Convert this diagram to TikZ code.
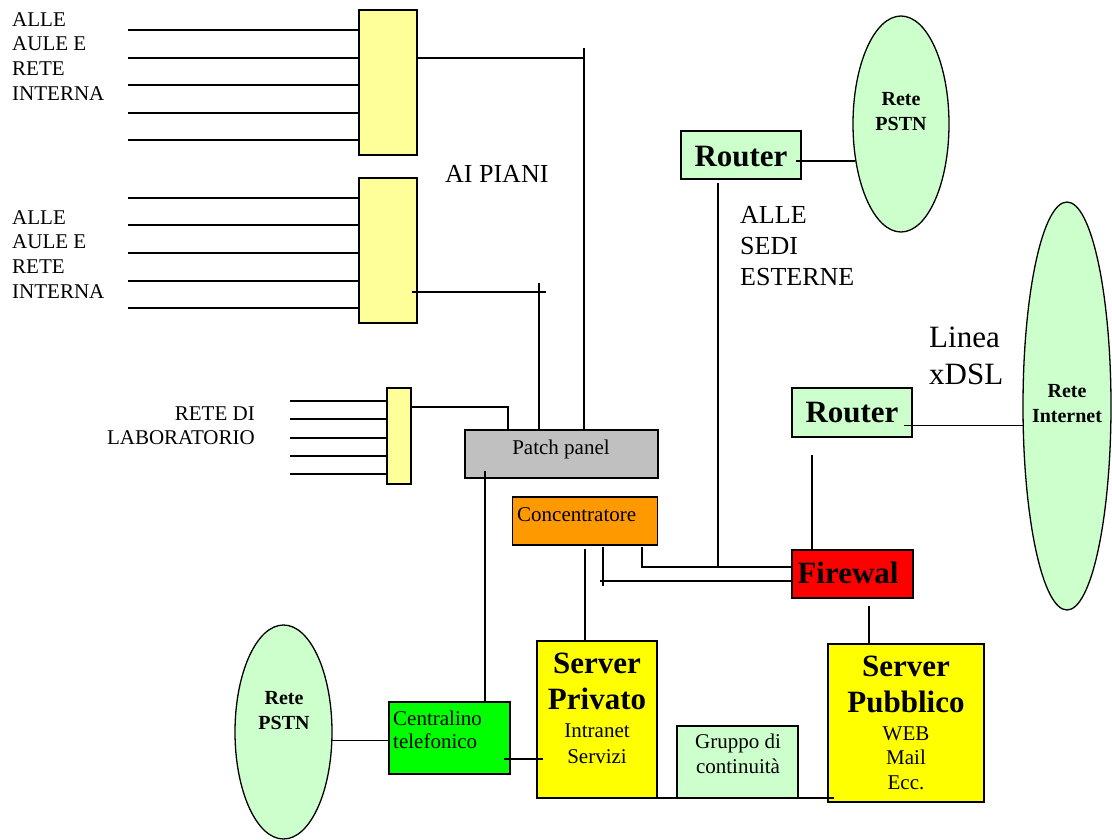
\documentclass[tikz,border=0pt]{standalone}
\usepackage{fontspec}
\setmainfont{Liberation Serif}
\usetikzlibrary{shapes.geometric}
\definecolor{lyel}{HTML}{FFFF99}
\definecolor{syel}{HTML}{FFFF00}
\definecolor{lgrn}{HTML}{CCFFCC}
\definecolor{pgray}{HTML}{C0C0C0}
\definecolor{orng}{HTML}{FF9900}
\definecolor{bgrn}{HTML}{00FF00}
\definecolor{rd}{HTML}{FF0000}
\begin{document}
\begin{tikzpicture}[x=1pt,y=-1pt,
  box/.style={draw=black,line width=1.6pt,rectangle,inner sep=0pt},
  wire/.style={line width=1.3pt},
  cloud/.style={draw=black,ellipse,line width=1.3pt,fill=lgrn,inner sep=0pt},
  small/.style={inner sep=0pt,font=\fontsize{21}{24.7}\selectfont},
  mid/.style={inner sep=0pt,font=\fontsize{26}{31}\selectfont},
  big/.style={inner sep=0pt,font=\fontsize{31}{37}\selectfont},
  cloudtxt/.style={inner sep=0pt,align=center,font=\fontsize{20}{24.5}\selectfont\bfseries},
  title/.style={inner sep=0pt,align=center,font=\fontsize{31}{36}\selectfont\bfseries}]
\useasboundingbox (0,0) rectangle (1112,839);

% boxes
\node[box,fill=lyel,minimum width=58pt,minimum height=145pt] (boxA) at (388,82.5) {};
\node[box,fill=lyel,minimum width=58pt,minimum height=145pt] (boxB) at (388,250.5) {};
\node[box,fill=lyel,minimum width=24pt,minimum height=96pt] (boxC) at (399,436) {};
\node[box,fill=pgray,minimum width=193pt,minimum height=48pt] (patch) at (561.5,454) {};
\node[box,fill=orng,minimum width=145pt,minimum height=48pt] (conc) at (585,521) {};
\node[box,fill=rd,minimum width=121pt,minimum height=48pt] (fw) at (852.5,574) {};
\node[box,fill=lgrn,minimum width=120pt,minimum height=48pt] (r1) at (741,155) {};
\node[box,fill=lgrn,minimum width=120pt,minimum height=49pt] (r2) at (852,412.5) {};
\node[box,fill=syel,minimum width=120pt,minimum height=157pt] (spriv) at (597,719.5) {};
\node[box,fill=syel,minimum width=156pt,minimum height=158pt] (spub) at (906,723) {};
\node[box,fill=bgrn,minimum width=121pt,minimum height=72pt] (cent) at (449.5,738) {};
\node[box,fill=lgrn,minimum width=121pt,minimum height=72pt] (ups) at (737.5,762) {};
\node[cloud,minimum width=96pt,minimum height=216pt] (pstn1) at (901,124) {};
\node[cloud,minimum width=88pt,minimum height=408pt] (inet) at (1067,406) {};
\node[cloud,minimum width=97pt,minimum height=214pt] (pstn2) at (283.5,732) {};

% texts
\node[small,align=left,anchor=north west] (lab1) at (12,12.1) {ALLE\\AULE E\\RETE\\INTERNA};
\node[small,align=left,anchor=north west] (lab2) at (12,210.1) {ALLE\\AULE E\\RETE\\INTERNA};
\node[small,align=right,anchor=north east,font=\fontsize{21}{24}\selectfont] (lab3) at (255,406.1) {RETE DI\\LABORATORIO};
\node[mid,anchor=north west] (piani) at (445,164.8) {AI PIANI};
\node[mid,align=left,anchor=north west] (sedi) at (740,205.8) {ALLE\\SEDI\\ESTERNE};
\node[big,align=left,anchor=north west] (xdsl) at (929,326.8) {Linea\\xDSL};
\node[cloudtxt,anchor=north] (tp1) at (901,92.5) {Rete\\PSTN};
\node[cloudtxt,anchor=north] (tin) at (1067,384.5) {Rete\\Internet};
\node[cloudtxt,anchor=north] (tp2) at (284,691.5) {Rete\\PSTN};
\node[title,anchor=base] (tr1) at (741,166) {Router};
\node[title,anchor=base] (tr2) at (852,422) {Router};
\node[title,anchor=base] (tfw) at (848,583) {Firewal};
\node[small,anchor=base] (tpp) at (561,454) {Patch panel};
\node[small,anchor=base west] (tcc) at (517,521) {Concentratore};
\node[small,align=left,anchor=north west,font=\fontsize{21}{23}\selectfont] (tce) at (393,710.7) {Centralino\\telefonico};
\node[title,anchor=north] (tsp) at (597,652.6) {Server\\Privato};
\node[small,align=center,anchor=north,font=\fontsize{21}{26}\selectfont] (tsp2) at (597,723.1) {Intranet\\Servizi};
\node[small,align=center,anchor=north,font=\fontsize{21}{25}\selectfont] (tups) at (738,733.8) {Gruppo di\\continuità};
\node[title,anchor=north] (tsb) at (906,655.6) {Server\\Pubblico};
\node[small,align=center,anchor=north,font=\fontsize{21}{24.5}\selectfont] (tsb2) at (906,726.1) {WEB\\Mail\\Ecc.};

% stub lines
\foreach \y in {30,58,85,113,140} {
  \coordinate (a\y) at (128,\y);
  \draw[wire] (a\y) -- (boxA.west |- a\y);
}
\foreach \y in {198,225,253,281,308} {
  \coordinate (b\y) at (128,\y);
  \draw[wire] (b\y) -- (boxB.west |- b\y);
}
\foreach \y in {401,419,438,456,474} {
  \coordinate (c\y) at (290,\y);
  \draw[wire] (c\y) -- (boxC.west |- c\y);
}

% connectors
\coordinate (tA) at (584,48);
\draw[wire] (boxA.east |- 0,58) -- (tA |- 0,58);
\draw[wire] (tA) -- (tA |- patch.north);
\coordinate (tB) at (539,283);
\coordinate (hB) at (546,292);
\draw[wire] ([xshift=-6pt]boxB.east |- hB) -- (hB);
\draw[wire] (tB) -- (tB |- patch.north);
\coordinate (cC) at (508,407);
\draw[wire] (boxC.east |- cC) -- (cC) -- (cC |- patch.north);
\coordinate (xP) at (485,471);
\draw[wire] (xP) -- (xP |- cent.north);
\coordinate (k1) at (585,549);
\draw[wire] (k1) -- (k1 |- spriv.north);
\coordinate (k2) at (603,547);
\coordinate (k2b) at (603,586);
\coordinate (k2h) at (600,581);
\draw[wire] (k2) -- (k2b);
\draw[wire] (k2h) -- (fw.west |- k2h);
\coordinate (k3) at (642,547);
\coordinate (k3b) at (642,567);
\draw[wire] (k3) -- (k3b) -- (fw.west |- k3b);
\coordinate (r1s) at (718,183);
\draw[wire] (r1s) -- (r1s |- k3b);
\coordinate (r2s) at (812,455);
\draw[wire] (r2s) -- (r2s |- fw.north);
\coordinate (fws) at (869,606);
\draw[wire] (fws) -- (fws |- spub.north);
\path (pstn1.219) coordinate (e1);
\coordinate (r1e) at ([xshift=-6pt]r1.east);
\draw[wire] (r1e |- e1) -- (e1);
\path (pstn1.219) coordinate (e1);
\path (inet.204) coordinate (e2);
\coordinate (r2e) at ([xshift=-9pt]r2.east);
\draw[wire] (r2e |- e2) -- (e2);
\path (pstn2.350) coordinate (e3);
\draw[wire] (e3) -- (cent.west |- e3);
\coordinate (cs) at (504,759);
\draw[wire] (cs) -- ([xshift=7pt]spriv.west |- cs);
\coordinate (bl) at (621,798);
\draw[wire] (bl) -- ([xshift=7pt]spub.west |- bl);
\end{tikzpicture}
\end{document}
